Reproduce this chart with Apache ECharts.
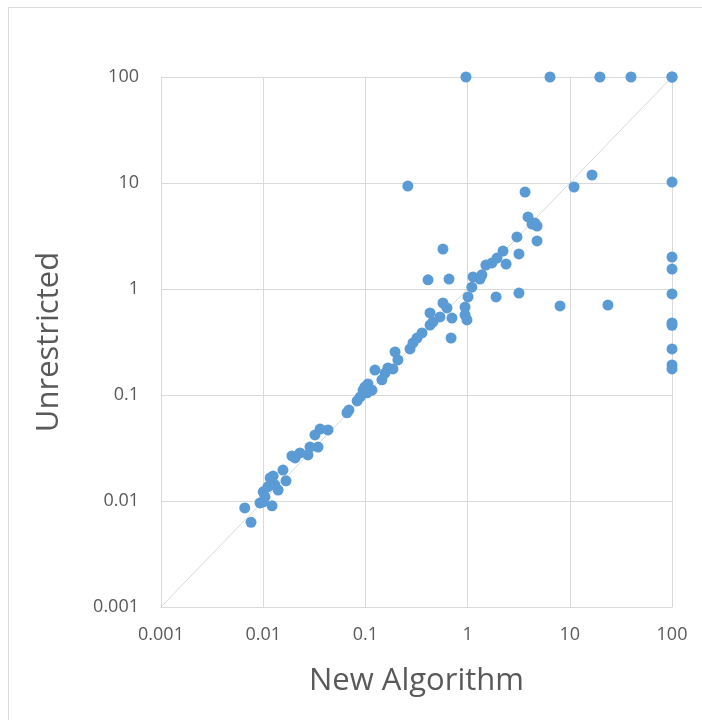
<!DOCTYPE html>
<html>
<head>
<meta charset="utf-8">
<script src="https://cdn.jsdelivr.net/npm/echarts@6/dist/echarts.min.js"></script>
<style>
html,body{margin:0;padding:0;background:#fff;}
#frame{position:absolute;left:8px;top:7px;width:720px;height:740px;border:1px solid #d9d9d9;box-sizing:border-box;}
#chart{position:absolute;left:0;top:0;width:702px;height:720px;}
</style>
</head>
<body>
<div id="frame"></div>
<div id="chart"></div>
<script>
// New Algorithm (x) values
const newAlgorithm = [
  0.0066, 0.0076, 0.0093, 0.0100, 0.0122, 0.0100, 0.0104, 0.0111, 0.0117, 0.0125,
  0.0140, 0.0130, 0.0156, 0.0167, 0.0191, 0.0205, 0.0229, 0.0274, 0.0287, 0.0321,
  0.0344, 0.0360, 0.0431,
  0.066, 0.069, 0.083, 0.089, 0.095, 0.099, 0.106, 0.116, 0.104, 0.124,
  0.145, 0.156, 0.166, 0.186, 0.195, 0.208, 0.273, 0.292, 0.320, 0.358,
  0.429, 0.458, 0.429, 0.537, 0.574, 0.628, 0.703, 0.689, 0.944, 0.944,
  0.986, 1.01, 1.10, 1.13, 1.32, 1.38, 0.410, 0.658, 0.574, 1.51,
  1.73, 1.94, 2.22, 2.38, 1.90, 3.18, 3.18, 3.04, 4.78, 4.56,
  3.90, 4.27, 4.78, 3.65, 8.02, 0.26, 0.964, 6.40, 19.7, 39.7,
  100, 100, 11.0, 16.5, 100, 23.6, 100, 100, 100, 100,
  100, 100, 100, 100
];
// Unrestricted (y) values
const unrestricted = [
  0.0086, 0.0063, 0.0096, 0.0098, 0.0090, 0.0122, 0.0109, 0.0136, 0.0165, 0.0172,
  0.0127, 0.0142, 0.0196, 0.0155, 0.0266, 0.0255, 0.0284, 0.0272, 0.0323, 0.0420,
  0.0323, 0.0477, 0.0468,
  0.068, 0.072, 0.088, 0.096, 0.111, 0.119, 0.127, 0.111, 0.105, 0.172,
  0.139, 0.161, 0.180, 0.176, 0.255, 0.214, 0.272, 0.310, 0.345, 0.385,
  0.457, 0.489, 0.594, 0.545, 0.738, 0.663, 0.532, 0.345, 0.676, 0.569,
  0.511, 0.841, 1.04, 1.30, 1.24, 1.36, 1.22, 1.24, 2.38, 1.68,
  1.76, 1.96, 2.28, 1.72, 0.841, 0.916, 2.14, 3.10, 2.84, 4.19,
  4.78, 4.10, 3.93, 8.22, 0.692, 9.35, 100, 100, 100, 100,
  100, 100, 9.17, 11.9, 10.2, 0.706, 2.0, 1.54, 0.898, 0.478,
  0.455, 0.272, 0.192, 0.176
];
const tickLabels = ['0.001', '0.01', '0.1', '1', '10', '100'];
const axisMin = 0.001, axisMax = 100;

const points = newAlgorithm.map((x, i) => [x, unrestricted[i]]);
const diagonal = [[axisMin, axisMin], [axisMax, axisMax]];

function fmt(v) {
  const e = Math.round(Math.log10(v));
  const idx = e + 3;
  return tickLabels[idx] !== undefined ? tickLabels[idx] : String(v);
}

const font = 'Open Sans, Liberation Sans, sans-serif';
const chart = echarts.init(document.getElementById('chart'));
chart.setOption({
  animation: false,
  backgroundColor: 'transparent',
  grid: {left: 161, right: 30, top: 77, bottom: 113, containLabel: false},
  xAxis: {
    type: 'log', logBase: 10, min: axisMin, max: axisMax,
    name: 'New Algorithm', nameLocation: 'middle', nameGap: 59,
    nameTextStyle: {fontSize: 31, color: '#595959', fontFamily: font},
    axisLine: {show: true, lineStyle: {color: '#d9d9d9', width: 1}},
    axisTick: {show: false},
    axisLabel: {formatter: fmt, fontSize: 18, color: '#595959', margin: 19, fontFamily: font},
    splitLine: {show: true, lineStyle: {color: '#d9d9d9', width: 1}},
    minorTick: {show: false}, minorSplitLine: {show: false}
  },
  yAxis: {
    type: 'log', logBase: 10, min: axisMin, max: axisMax,
    name: 'Unrestricted', nameLocation: 'middle', nameGap: 96, nameRotate: 90,
    nameTextStyle: {fontSize: 31, color: '#595959', fontFamily: font},
    axisLine: {show: true, lineStyle: {color: '#d9d9d9', width: 1}},
    axisTick: {show: false},
    axisLabel: {formatter: fmt, fontSize: 18, color: '#595959', margin: 22, fontFamily: font},
    splitLine: {show: true, lineStyle: {color: '#d9d9d9', width: 1}}
  },
  series: [
    {
      type: 'line', data: diagonal, symbol: 'none', silent: true,
      lineStyle: {color: '#d9d9d9', width: 1}, z: 1
    },
    {
      type: 'scatter', data: points, symbol: 'circle', symbolSize: 11,
      itemStyle: {color: '#5b9bd5', opacity: 1}, z: 2
    }
  ]
});
</script>
</body>
</html>
